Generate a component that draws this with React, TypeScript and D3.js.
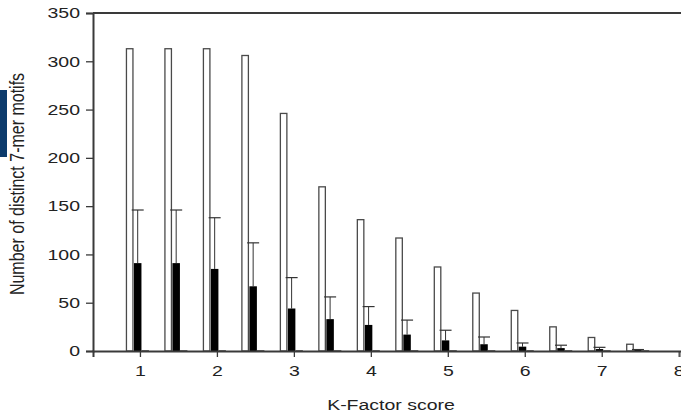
import React, { useEffect, useRef } from 'react';
import * as d3 from 'd3';

const scores = [1, 1.5, 2, 2.5, 3, 3.5, 4, 4.5, 5, 5.5, 6, 6.5, 7, 7.5];
const observed = [313, 313, 313, 306, 246, 170, 136, 117, 87, 60, 42, 25, 14, 7];
const shuffled = [91, 91, 85, 67, 44, 33, 27, 17, 11, 7, 4.5, 3, 2, 1];
const shuffledUpper = [146, 146, 138, 112, 76, 56, 46, 32, 21.5, 14.5, 8.3, 6, 3.8, 1.5];
const background = [1, 1, 1, 1, 1, 1, 1, 1, 1, 1, 1, 1, 1, 1];
const xTicks = [1, 2, 3, 4, 5, 6, 7, 8];
const yTicks = [0, 50, 100, 150, 200, 250, 300, 350];

const W = 681;
const H = 413;
const FONT = '"Liberation Sans", Arial, Helvetica, sans-serif';

const App = () => {
  const ref = useRef<SVGSVGElement | null>(null);

  useEffect(() => {
    if (!ref.current) return;
    document.body.style.margin = '0';
    const svg = d3.select(ref.current);
    svg.selectAll('*').remove();

    const margin = { top: 13, right: 0, bottom: 62, left: 93 };
    const x = d3.scaleLinear().domain([0.39, 8.03]).range([margin.left, W - margin.right]);
    const y = d3.scaleLinear().domain([0, 350]).range([H - margin.bottom, margin.top]);
    const inner = d3.scaleBand().domain(['obs', 'shuf', 'bg']).range([-13.5, 9]);

    const axisColor = '#3a3a3a';

    // left blue tab
    svg.append('rect').attr('x', 0).attr('y', 90).attr('width', 7).attr('height', 67).attr('fill', '#0c3b6c');

    // top frame line
    svg
      .append('line')
      .attr('x1', margin.left)
      .attr('x2', W)
      .attr('y1', y(350))
      .attr('y2', y(350))
      .attr('stroke', axisColor)
      .attr('stroke-width', 2);

    // bars
    scores.forEach((s, i) => {
      const cx = x(s);
      svg
        .append('rect')
        .attr('x', cx + inner('obs'))
        .attr('y', y(observed[i]))
        .attr('width', inner.bandwidth() - 1)
        .attr('height', y(0) - y(observed[i]))
        .attr('fill', '#fff')
        .attr('stroke', '#4a4a4a')
        .attr('stroke-width', 1.3);

      const bx = cx + inner('shuf');
      const bmid = bx + inner.bandwidth() / 2;
      svg
        .append('line')
        .attr('x1', bmid)
        .attr('x2', bmid)
        .attr('y1', y(shuffled[i]))
        .attr('y2', y(shuffledUpper[i]))
        .attr('stroke', '#333')
        .attr('stroke-width', 1);
      svg
        .append('line')
        .attr('x1', bmid - 6)
        .attr('x2', bmid + 6)
        .attr('y1', y(shuffledUpper[i]))
        .attr('y2', y(shuffledUpper[i]))
        .attr('stroke', '#333')
        .attr('stroke-width', 1.2);
      svg
        .append('rect')
        .attr('x', bx)
        .attr('y', y(shuffled[i]))
        .attr('width', inner.bandwidth())
        .attr('height', y(0) - y(shuffled[i]))
        .attr('fill', '#000');

      svg
        .append('rect')
        .attr('x', cx + inner('bg'))
        .attr('y', y(background[i]))
        .attr('width', inner.bandwidth())
        .attr('height', y(0) - y(background[i]))
        .attr('fill', '#666');
    });

    // y axis
    const yAxis = svg
      .append('g')
      .attr('transform', `translate(${margin.left},0)`)
      .call(d3.axisLeft(y).tickValues(yTicks).tickSize(7).tickPadding(6));
    yAxis.select('.domain').attr('stroke', axisColor).attr('stroke-width', 2);
    yAxis.selectAll('.tick line').attr('stroke', axisColor).attr('stroke-width', 1.3);
    yAxis
      .selectAll('.tick text')
      .attr('font-family', FONT)
      .attr('font-size', 15)
      .attr('fill', '#222')
      .attr('transform', function () {
        const t = this as SVGTextElement;
        const tx = +(t.getAttribute('x') || 0);
        return `translate(${tx},0) scale(1.3,1) translate(${-tx},0)`;
      });

    // x axis
    const xAxis = svg
      .append('g')
      .attr('transform', `translate(0,${y(0)})`)
      .call(d3.axisBottom(x).tickValues(xTicks).tickSize(6).tickPadding(8).tickFormat(d3.format('d')));
    xAxis.select('.domain').attr('stroke', axisColor).attr('stroke-width', 2);
    xAxis.selectAll('.tick line').attr('stroke', axisColor).attr('stroke-width', 1.3);
    xAxis
      .selectAll('.tick text')
      .attr('font-family', FONT)
      .attr('font-size', 15)
      .attr('fill', '#222')
      .attr('transform', 'scale(1.3,1)');

    // axis titles
    svg
      .append('text')
      .attr('transform', `translate(${(327 + 455) / 2},${H - 3}) scale(1.3,1)`)
      .attr('text-anchor', 'middle')
      .attr('font-family', FONT)
      .attr('font-size', 15)
      .attr('fill', '#222')
      .text('K-Factor score');

    svg
      .append('text')
      .attr('transform', `translate(24,184) scale(1.3,1) rotate(-90)`)
      .attr('text-anchor', 'middle')
      .attr('font-family', FONT)
      .attr('font-size', 16)
      .attr('fill', '#222')
      .text('Number of distinct 7-mer motifs');
  }, []);

  return <svg ref={ref} width={W} height={H} style={{ display: 'block', background: '#fff' }} />;
};

export default App;
